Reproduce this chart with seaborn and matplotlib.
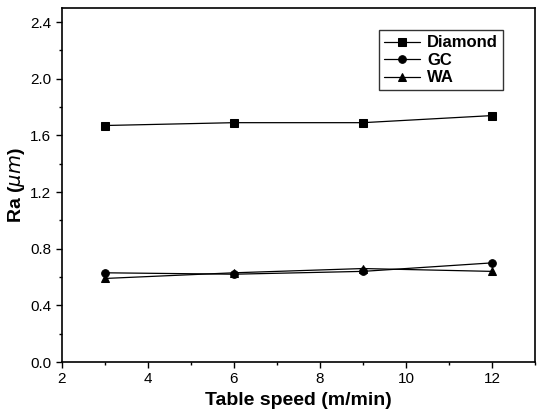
import pandas as pd
import seaborn as sns
import matplotlib.pyplot as plt
from matplotlib.ticker import MultipleLocator

# Datos
speed = [3, 6, 9, 12]
diamond = [1.67, 1.69, 1.69, 1.74]
gc = [0.63, 0.62, 0.64, 0.70]
wa = [0.59, 0.63, 0.66, 0.64]

df = pd.DataFrame({
    "speed": speed * 3,
    "Ra": diamond + gc + wa,
    "wheel": ["Diamond"] * 4 + ["GC"] * 4 + ["WA"] * 4,
})

sns.set_style("ticks", {"axes.edgecolor": "black", "text.color": "black",
                        "xtick.color": "black", "ytick.color": "black",
                        "axes.labelcolor": "black"})
plt.rcParams["font.family"] = ["Liberation Sans", "DejaVu Sans"]

fig = plt.figure(figsize=(5.42, 4.19), dpi=100)
ax = fig.add_axes([0.114, 0.136, 0.873, 0.845])

sns.lineplot(data=df, x="speed", y="Ra", hue="wheel", style="wheel",
             markers={"Diamond": "s", "GC": "o", "WA": "^"}, dashes=False,
             palette=["black"] * 3, linewidth=0.9, markersize=5.5,
             markeredgecolor="black", ax=ax)

ax.set_xlim(2, 13)
ax.set_ylim(0, 2.5)
ax.xaxis.set_major_locator(MultipleLocator(2))
ax.xaxis.set_minor_locator(MultipleLocator(1))
ax.yaxis.set_minor_locator(MultipleLocator(0.2))
ax.set_yticks([0.0, 0.4, 0.8, 1.2, 1.6, 2.0, 2.4])
ax.set_yticklabels(["0.0", "0.4", "0.8", "1.2", "1.6", "2.0", "2.4"])
ax.tick_params(which="major", length=4, width=1, labelsize=11)
ax.tick_params(which="minor", length=2.5, width=1)
for s in ax.spines.values():
    s.set_visible(True)
    s.set_linewidth(1.2)

ax.set_xlabel("Table speed (m/min)", fontsize=14, fontweight="bold")
ax.set_ylabel("Ra ($\\mu m$)", fontsize=14, fontweight="bold", labelpad=2)

leg = ax.legend(title=None, loc="upper right", bbox_to_anchor=(0.95, 0.96),
                fontsize=12, frameon=True, fancybox=False, edgecolor="black",
                handlelength=2.2, borderpad=0.3, labelspacing=0.15,
                handletextpad=0.4)
leg.get_frame().set_linewidth(1)
for t in leg.get_texts():
    t.set_fontweight("bold")

plt.savefig("out.png", dpi=100)
